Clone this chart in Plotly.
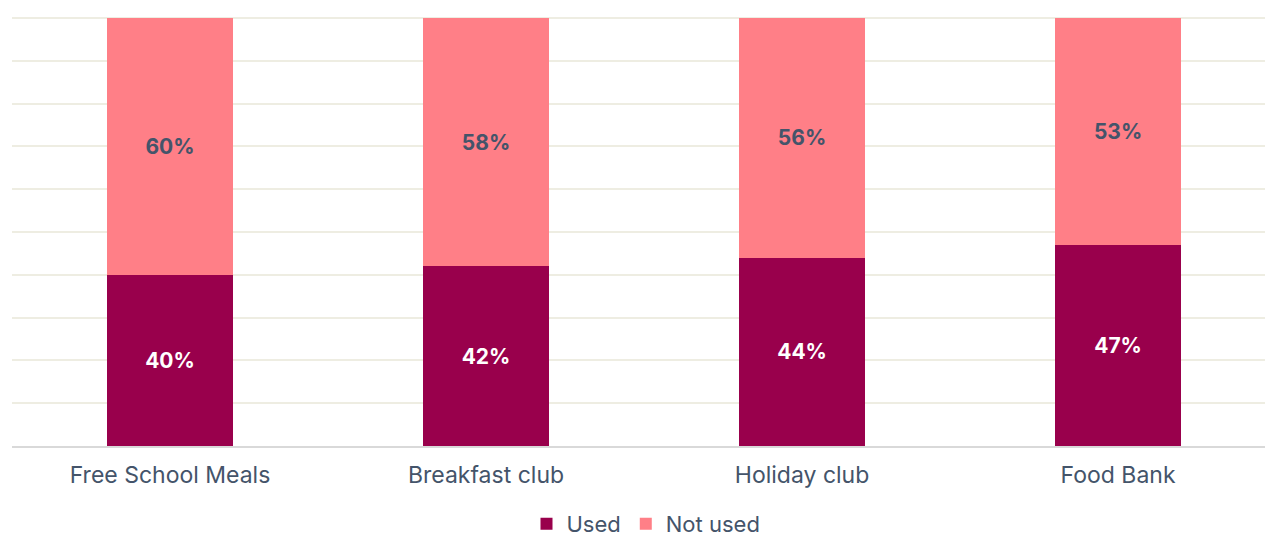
import plotly.graph_objects as go

categories = ["Free School Meals", "Breakfast club", "Holiday club", "Food Bank"]
used = [40, 42, 44, 47]
not_used = [60, 58, 56, 53]

FONT = "Inter, Roboto, sans-serif"
TEXT_COLOR = "#44546A"

fig = go.Figure()
fig.add_trace(go.Bar(
    name="Used", x=categories, y=used,
    marker=dict(color="#99004C", line=dict(width=0)),
    text=[f"{v}%" for v in used], textposition="inside",
    insidetextanchor="middle",
    textfont=dict(color="white", size=21, family=FONT, weight="bold"),
    width=0.4,
))
fig.add_trace(go.Bar(
    name="Not used", x=categories, y=not_used,
    marker=dict(color="#FF7F87", line=dict(width=0)),
    text=[f"{v}%" for v in not_used], textposition="inside",
    insidetextanchor="middle",
    textfont=dict(color=TEXT_COLOR, size=21, family=FONT, weight="bold"),
    width=0.4,
))

fig.update_layout(
    barmode="stack",
    width=1265, height=537,
    margin=dict(l=12, r=0, t=17, b=91, autoexpand=False),
    paper_bgcolor="white", plot_bgcolor="white",
    font=dict(family=FONT, color=TEXT_COLOR, size=22),
    showlegend=True,
    legend=dict(orientation="h", x=646 / 1265, xanchor="center", xref="container",
                y=13 / 537, yanchor="middle", yref="container",
                font=dict(size=22, color=TEXT_COLOR), traceorder="normal",
                itemwidth=30),
)
fig.update_xaxes(range=[-0.5, 3.465], showgrid=False, showline=True,
                 linecolor="#D9D9D9", linewidth=2, ticks="",
                 ticklabelstandoff=7, automargin=False,
                 tickfont=dict(size=23, color=TEXT_COLOR))
fig.update_yaxes(range=[0, 100.25], dtick=10, showgrid=True, gridcolor="#EEEDE2",
                 gridwidth=2, showticklabels=False, zeroline=False,
                 automargin=False)

fig.write_html("out.html")
